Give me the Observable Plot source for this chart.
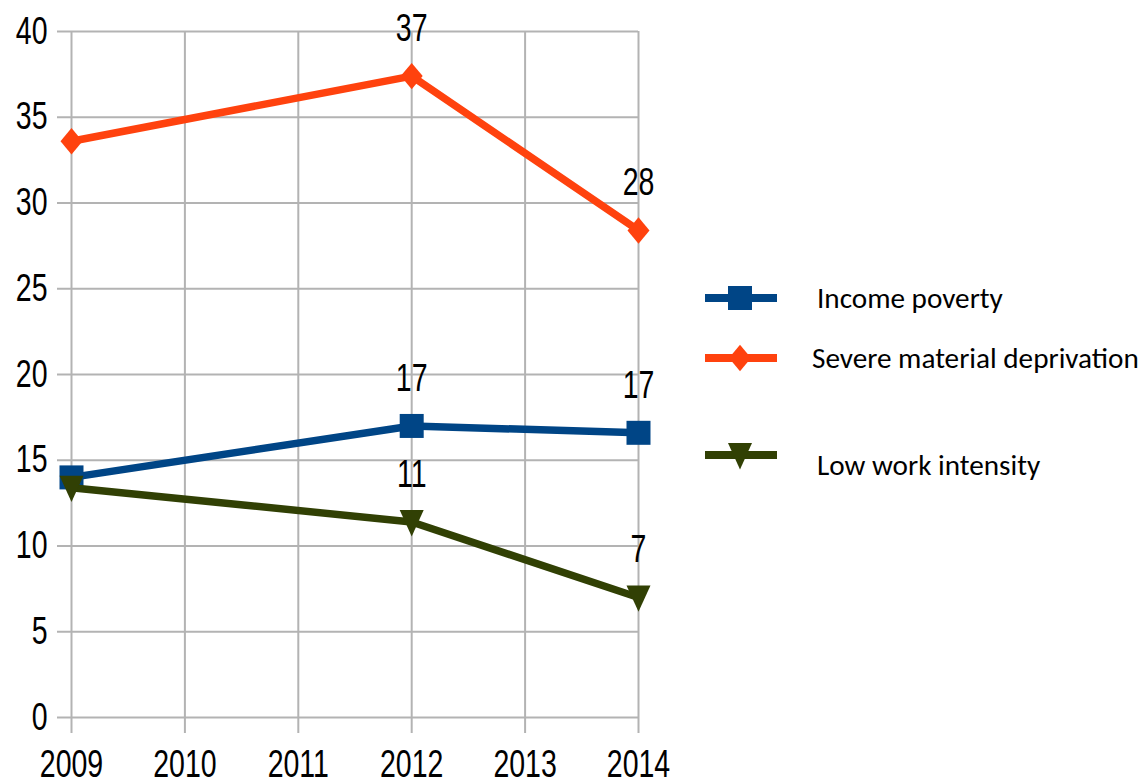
<!DOCTYPE html>
<html>
<head>
<meta charset="utf-8">
<script src="https://cdn.jsdelivr.net/npm/d3@7"></script>
<script src="https://cdn.jsdelivr.net/npm/@observablehq/plot@0.6"></script>
<style>
  html, body { margin: 0; padding: 0; background: #fff; }
  #wrap { position: relative; width: 1146px; height: 784px; overflow: hidden; background: #fff; }
  #chart { position: absolute; left: 0; top: 0; }
  #legend { position: absolute; left: 690px; top: 0; }
</style>
</head>
<body>
<div id="wrap"><div id="chart"></div><svg id="legend" width="456" height="784"></svg></div>
<script>
// ---- data ----
const years = [2009, 2012, 2014];
const xTicks = [2009, 2010, 2011, 2012, 2013, 2014];
const yTicks = [0, 5, 10, 15, 20, 25, 30, 35, 40];
const seriesNames = ["Income poverty", "Severe material deprivation", "Low work intensity"];
const seriesColors = ["#004586", "#ff420e", "#314004"];
const incomePoverty = [14.0, 17.0, 16.6];
const severeDeprivation = [33.6, 37.4, 28.4];
const lowWorkIntensity = [13.4, 11.4, 7.0];
const incomeLabels = [null, "17", "17"];
const severeLabels = [null, "37", "28"];
const lowWorkLabels = [null, "11", "7"];

const seriesValues = [incomePoverty, severeDeprivation, lowWorkIntensity];
const seriesLabels = [incomeLabels, severeLabels, lowWorkLabels];

const rows = [];
seriesNames.forEach((s, i) => {
  years.forEach((yr, j) => rows.push({series: s, year: yr, value: seriesValues[i][j], label: seriesLabels[i][j]}));
});

// custom symbols (size -> r = sqrt(size/pi))
const symSquare = {draw(ctx, size) { const r = Math.sqrt(size / Math.PI); ctx.rect(-r, -r, 2 * r, 2 * r); }};
const symDiamond = {draw(ctx, size) { const r = Math.sqrt(size / Math.PI);
  ctx.moveTo(0, -1.2 * r); ctx.lineTo(r, 0); ctx.lineTo(0, 1.2 * r); ctx.lineTo(-r, 0); ctx.closePath(); }};
const symTriDown = {draw(ctx, size) { const r = Math.sqrt(size / Math.PI);
  ctx.moveTo(-r, -1.0 * r); ctx.lineTo(r, -1.0 * r); ctx.lineTo(0, 1.2 * r); ctx.closePath(); }};
const seriesSymbols = [symSquare, symDiamond, symTriDown];
const seriesR = [12, 11, 12];

const numFont = "'Liberation Sans', Arial, sans-serif";
const numSize = 38;
const gridColor = "#b3b3b3";

const marks = [
  Plot.gridY(yTicks, {stroke: gridColor, strokeOpacity: 1, strokeWidth: 2}),
  Plot.gridX(xTicks, {stroke: gridColor, strokeOpacity: 1, strokeWidth: 2}),
  Plot.axisY(yTicks, {tickSize: 14, tickPadding: 10, stroke: gridColor, strokeWidth: 2, fill: "#000", label: null}),
  Plot.axisX(xTicks, {tickSize: 16, tickPadding: 17, stroke: gridColor, strokeWidth: 2, fill: "#000", label: null, tickFormat: d => String(d)})
];
seriesNames.forEach((s, i) => {
  const d = rows.filter(r => r.series === s);
  marks.push(Plot.line(d, {x: "year", y: "value", stroke: seriesColors[i], strokeWidth: 7.5, strokeLinejoin: "round"}));
  marks.push(Plot.dot(d, {x: "year", y: "value", fill: seriesColors[i], stroke: "none", r: seriesR[i], symbol: seriesSymbols[i]}));
});
marks.push(Plot.text(rows.filter(r => r.label), {x: "year", y: "value", text: "label", dy: -35, lineAnchor: "bottom", fill: "#000", fontSize: numSize, fontFamily: numFont}));

const chart = Plot.plot({
  width: 690,
  height: 784,
  marginLeft: 71,
  marginRight: 52,
  marginTop: 31,
  marginBottom: 67,
  x: {domain: [2009, 2014], label: null},
  y: {domain: [0, 40], label: null},
  style: {fontFamily: numFont, fontSize: numSize + "px", color: "#000", background: "transparent"},
  marks
});
document.getElementById("chart").appendChild(chart);

// horizontally condense numeric text (the reference uses a narrow face)
const squeeze = 0.75;
chart.querySelectorAll("text").forEach(t => {
  const bb = t.getBBox();
  const anchor = getComputedStyle(t).textAnchor || t.getAttribute("text-anchor") || "start";
  let ax = bb.x;
  if (anchor === "middle") ax = bb.x + bb.width / 2;
  else if (anchor === "end") ax = bb.x + bb.width;
  const prev = t.getAttribute("transform") || "";
  t.setAttribute("transform", `${prev} translate(${ax},0) scale(${squeeze},1) translate(${-ax},0)`.trim());
});

// ---- legend ----
const lg = d3.select("#legend");
const legendY = [298, 358, 455];
const textBase = [308, 368, 475];
const textX = [127, 122, 127];
seriesNames.forEach((s, i) => {
  const g = lg.append("g");
  g.append("line").attr("x1", 15).attr("x2", 87).attr("y1", legendY[i]).attr("y2", legendY[i])
    .attr("stroke", seriesColors[i]).attr("stroke-width", 8);
  const p = d3.path();
  seriesSymbols[i].draw(p, seriesR[i] * seriesR[i] * Math.PI);
  g.append("path").attr("d", p.toString()).attr("fill", seriesColors[i])
    .attr("transform", `translate(50,${legendY[i]})`);
  g.append("text").attr("x", textX[i]).attr("y", textBase[i])
    .attr("font-family", "Carlito, Lato, 'Open Sans', sans-serif").attr("font-size", 29.2)
    .attr("fill", "#000").text(s);
});
</script>
</body>
</html>
